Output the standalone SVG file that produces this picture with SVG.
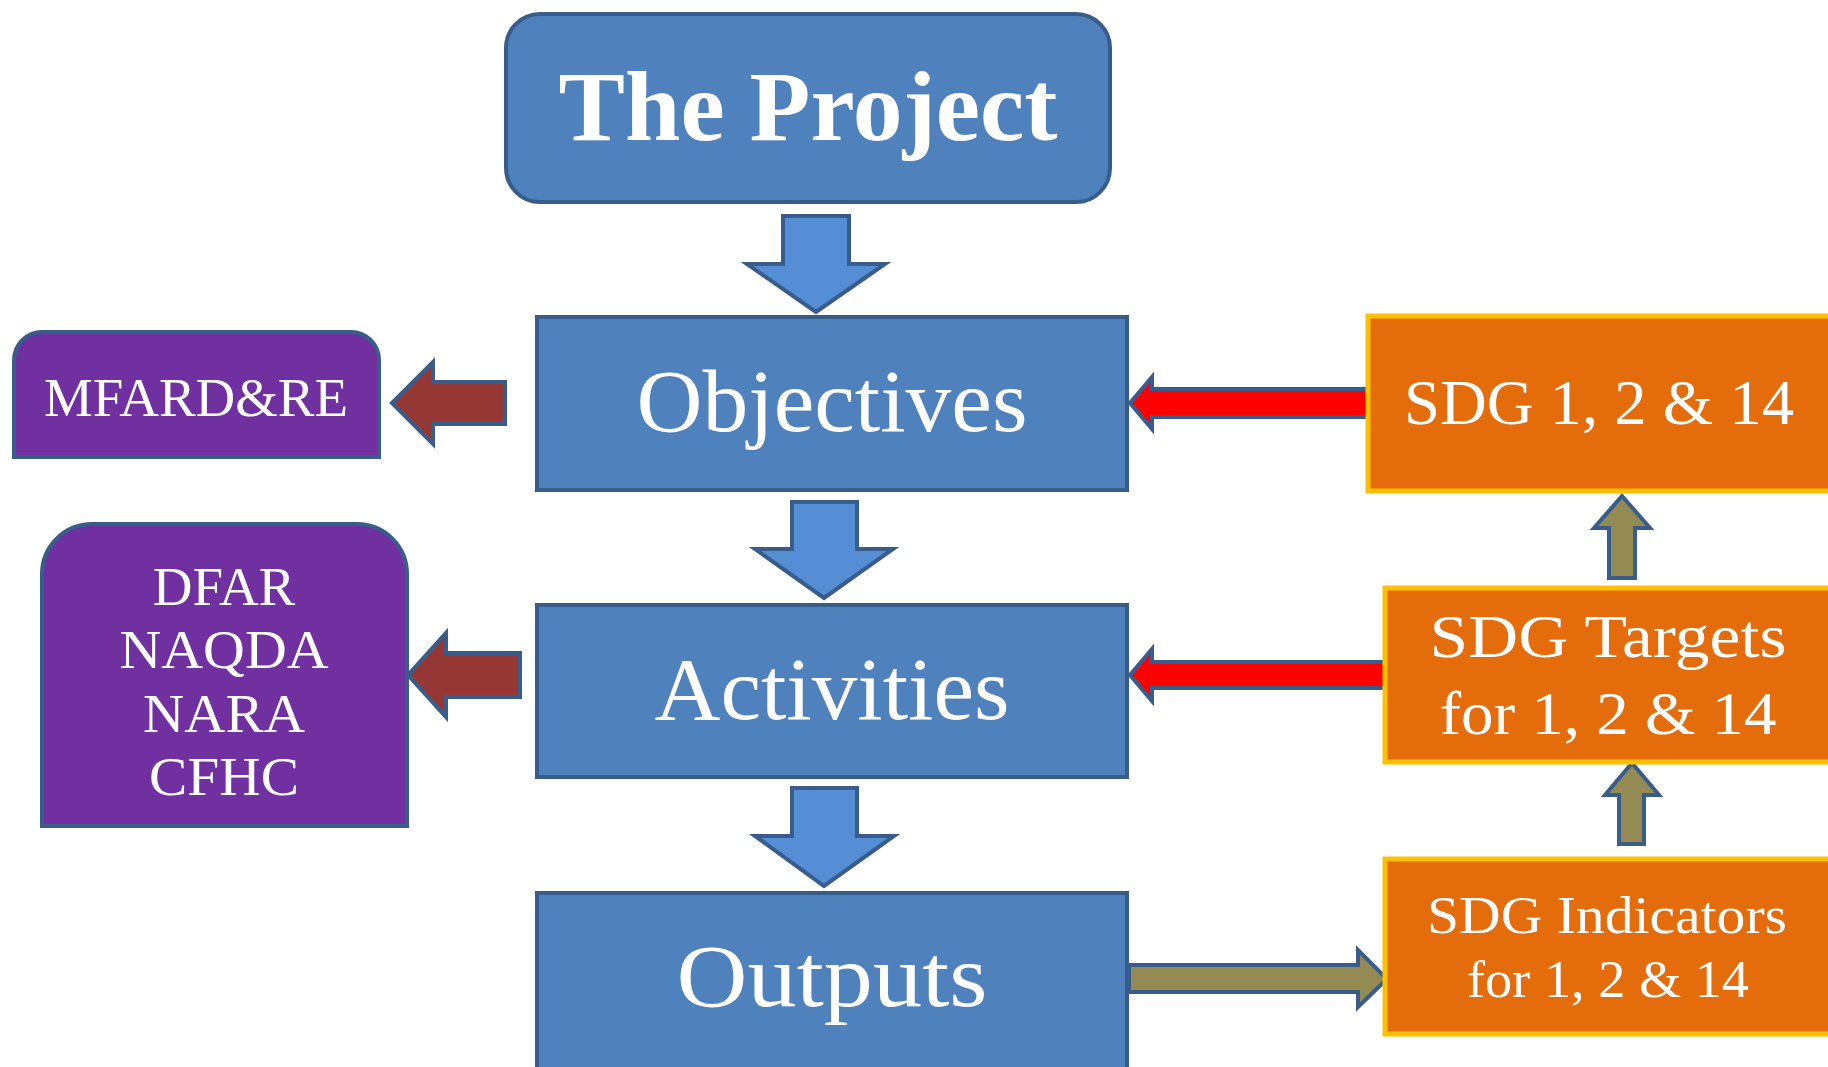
<svg xmlns="http://www.w3.org/2000/svg" width="1828" height="1067" viewBox="0 0 1828 1067">
<style>
.blue{fill:#4F81BD;stroke:#385D8A;stroke-width:4}
.purple{fill:#7030A0;stroke:#385D8A;stroke-width:4}
.orange{fill:#E46C0A;stroke:#FFC000;stroke-width:5}
.arr{stroke:#385D8A;stroke-width:4;stroke-linejoin:miter;stroke-miterlimit:10}
.down{fill:#558ED5}
.brown{fill:#953735}
.red{fill:#FF0000}
.olive{fill:#948A54}
text{font-family:"Liberation Serif","Times New Roman",serif;fill:#FFFFFF;text-anchor:middle}
.big{font-size:88px}
.mid{font-size:55px}
</style>
<rect width="1828" height="1067" fill="#FFFFFF"/>
<g id="connectors">
<polygon class="arr down" points="783,216 849,216 849,264 885,264 816,312 747,264 783,264"/>
<polygon class="arr down" points="792,502 857,502 857,549 893,549 824,598 755,549 792,549"/>
<polygon class="arr down" points="792,788 857,788 857,836 894,836 824,886 755,836 792,836"/>
<polygon class="arr brown" points="392,403 433,362 433,382 505,382 505,424 433,424 433,444"/>
<polygon class="arr brown" points="408,675 446,633 446,653 520,653 520,697 446,697 446,717"/>
<polygon class="arr red" points="1130,403 1152,377 1152,389 1369,389 1369,417 1152,417 1152,429"/>
<polygon class="arr red" points="1130,675 1152,649 1152,662 1385,662 1385,688 1152,688 1152,701"/>
<polygon class="arr olive" points="1622,496 1650,528 1635,528 1635,578 1609,578 1609,528 1594,528"/>
<polygon class="arr olive" points="1632,763 1659,795 1644,795 1644,844 1619,844 1619,795 1605,795"/>
<polygon class="arr olive" points="1129,965 1358,965 1358,950 1387,979 1358,1007 1358,992 1129,992"/>
</g>
<g id="project">
<rect class="blue" x="506" y="14" width="604" height="188" rx="34"/>
<text x="808" y="140" style="font-size:100px;font-weight:bold" textLength="499" lengthAdjust="spacingAndGlyphs">The Project</text>
</g>
<g id="objectives">
<rect class="blue" x="537" y="317" width="590" height="173"/>
<text class="big" x="832" y="431" textLength="391" lengthAdjust="spacingAndGlyphs">Objectives</text>
</g>
<g id="activities">
<rect class="blue" x="537" y="605" width="590" height="172"/>
<text class="big" x="832" y="719" textLength="355" lengthAdjust="spacingAndGlyphs">Activities</text>
</g>
<g id="outputs">
<rect class="blue" x="537" y="893" width="590" height="200"/>
<text class="big" x="832" y="1006" textLength="311" lengthAdjust="spacingAndGlyphs">Outputs</text>
</g>
<g id="mfard">
<path class="purple" d="M14,457 V360 A28,28 0 0 1 42,332 H351 A28,28 0 0 1 379,360 V457 Z"/>
<text class="mid" x="196" y="416" textLength="304" lengthAdjust="spacingAndGlyphs">MFARD&amp;RE</text>
</g>
<g id="agencies">
<path class="purple" d="M42,826 V574 A50,50 0 0 1 92,524 H357 A50,50 0 0 1 407,574 V826 Z"/>
<text class="mid" x="224" y="605">DFAR</text>
<text class="mid" x="224" y="668" textLength="209" lengthAdjust="spacingAndGlyphs">NAQDA</text>
<text class="mid" x="224" y="732" textLength="162" lengthAdjust="spacingAndGlyphs">NARA</text>
<text class="mid" x="224" y="795" textLength="150" lengthAdjust="spacingAndGlyphs">CFHC</text>
</g>
<g id="sdg">
<rect class="orange" x="1368" y="316" width="480" height="175"/>
<text x="1599" y="424" style="font-size:64px" textLength="390" lengthAdjust="spacingAndGlyphs">SDG 1, 2 &amp; 14</text>
</g>
<g id="targets">
<rect class="orange" x="1385" y="588" width="480" height="174"/>
<text x="1608" y="657" style="font-size:62px" textLength="357" lengthAdjust="spacingAndGlyphs">SDG Targets</text>
<text x="1608" y="734" style="font-size:62px" textLength="337" lengthAdjust="spacingAndGlyphs">for 1, 2 &amp; 14</text>
</g>
<g id="indicators">
<rect class="orange" x="1385" y="859" width="480" height="175"/>
<text x="1607" y="933" style="font-size:52px" textLength="360" lengthAdjust="spacingAndGlyphs">SDG Indicators</text>
<text x="1608" y="997" style="font-size:52px" textLength="282" lengthAdjust="spacingAndGlyphs">for 1, 2 &amp; 14</text>
</g>
</svg>
